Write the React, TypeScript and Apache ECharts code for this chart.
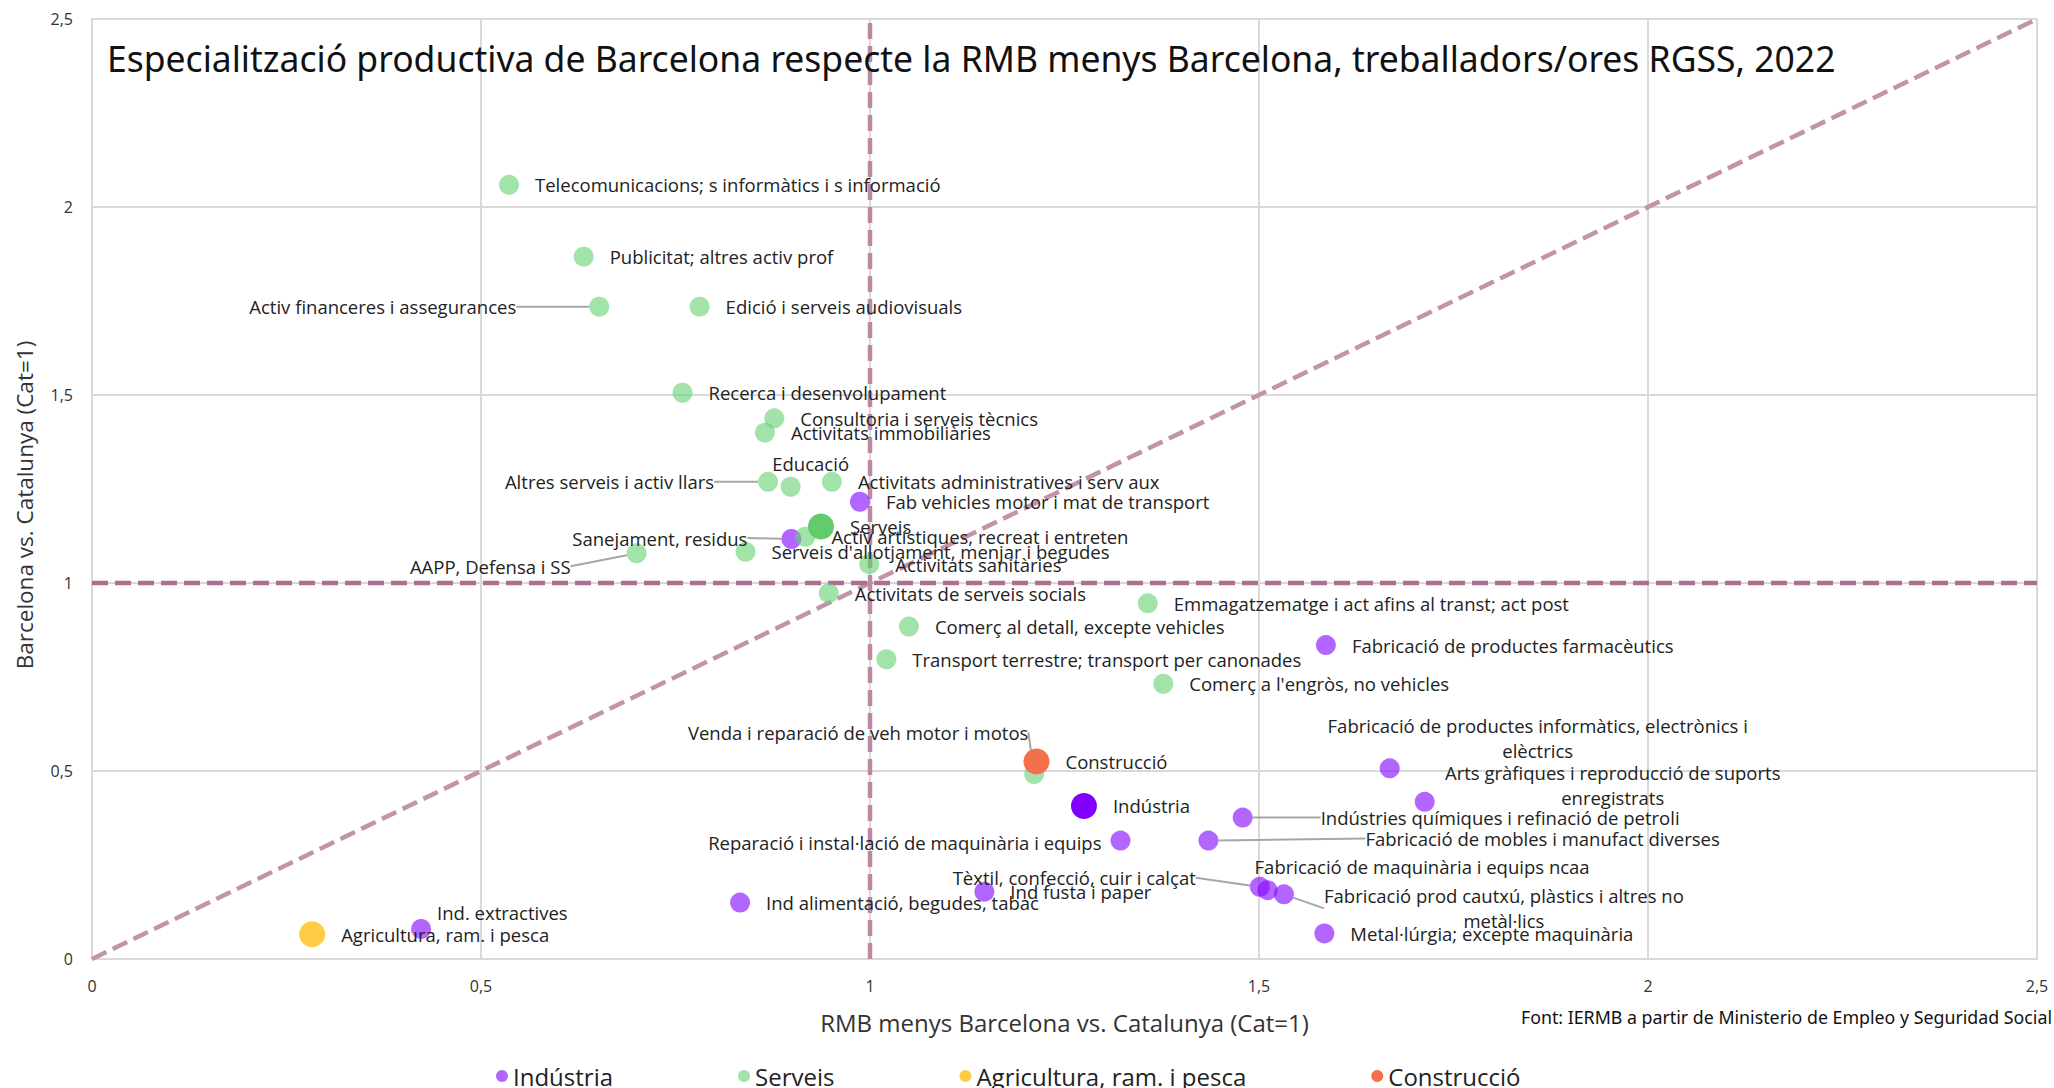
import React, { useEffect, useRef } from "react";
import * as echarts from "echarts";

// ---------- DATA ----------
const categories = ["Indústria", "Serveis", "Agricultura, ram. i pesca", "Construcció"];

const industriaNames = [
  "Fab vehicles motor i mat de transport",
  "Sanejament, residus",
  "Fabricació de productes farmacèutics",
  "Fabricació de productes informàtics, electrònics i elèctrics",
  "Arts gràfiques i reproducció de suports enregistrats",
  "Indústries químiques i refinació de petroli",
  "Fabricació de mobles i manufact diverses",
  "Reparació i instal·lació de maquinària i equips",
  "Tèxtil, confecció, cuir i calçat",
  "Fabricació de maquinària i equips ncaa",
  "Fabricació prod cautxú, plàstics i altres no metàl·lics",
  "Metal·lúrgia; excepte maquinària",
  "Ind fusta i paper",
  "Ind alimentació, begudes, tabac",
  "Ind. extractives",
  "Indústria",
];
const industriaX = [0.987, 0.899, 1.586, 1.668, 1.713, 1.479, 1.435, 1.322, 1.501, 1.511, 1.532, 1.584, 1.147, 0.833, 0.423, 1.275];
const industriaY = [1.216, 1.117, 0.835, 0.507, 0.418, 0.376, 0.315, 0.315, 0.192, 0.183, 0.172, 0.068, 0.179, 0.150, 0.080, 0.407];

const serveisNames = [
  "Telecomunicacions; s informàtics i s informació",
  "Publicitat; altres activ prof",
  "Activ financeres i assegurances",
  "Edició i serveis audiovisuals",
  "Recerca i desenvolupament",
  "Consultoria i serveis tècnics",
  "Activitats immobiliàries",
  "Altres serveis i activ llars",
  "Educació",
  "Activitats administratives i serv aux",
  "Activ artístiques, recreat i entreten",
  "AAPP, Defensa i SS",
  "Serveis d'allotjament, menjar i begudes",
  "Activitats sanitàries",
  "Activitats de serveis socials",
  "Emmagatzematge i act afins al transt; act post",
  "Comerç al detall, excepte vehicles",
  "Transport terrestre; transport per canonades",
  "Comerç a l'engròs, no vehicles",
  "Venda i reparació de veh motor i motos",
  "Serveis",
];
const serveisX = [0.536, 0.632, 0.652, 0.781, 0.759, 0.877, 0.865, 0.869, 0.898, 0.951, 0.917, 0.700, 0.840, 0.999, 0.947, 1.357, 1.050, 1.021, 1.377, 1.211, 0.937];
const serveisY = [2.059, 1.868, 1.735, 1.735, 1.506, 1.438, 1.400, 1.269, 1.256, 1.269, 1.123, 1.079, 1.083, 1.050, 0.973, 0.946, 0.884, 0.797, 0.732, 0.492, 1.150];

const agriNames = ["Agricultura, ram. i pesca"];
const agriX = [0.283];
const agriY = [0.066];

const construccioNames = ["Construcció"];
const construccioX = [1.214];
const construccioY = [0.525];

// reference lines (data space)
const diagonalLine = [[0, 0], [2.5, 2.5]];
const verticalLine = [[1, 0], [1, 2.5]];
const horizontalLine = [[0, 1], [2.5, 1]];

const axisMin = 0;
const axisMax = 2.5;
const axisInterval = 0.5;

const titleText =
  "Especialització productiva de Barcelona respecte la RMB menys Barcelona, treballadors/ores RGSS, 2022";
const sourceText = "Font: IERMB a partir de Ministerio de Empleo y Seguridad Social";
const xAxisName = "RMB menys Barcelona vs. Catalunya (Cat=1)";
const yAxisName = "Barcelona vs. Catalunya (Cat=1)";

// wrapped label texts
const wrappedLabels: Record<string, string> = {
  "Fabricació de productes informàtics, electrònics i elèctrics":
    "Fabricació de productes informàtics, electrònics i\nelèctrics",
  "Arts gràfiques i reproducció de suports enregistrats":
    "Arts gràfiques i reproducció de suports\nenregistrats",
  "Fabricació prod cautxú, plàstics i altres no metàl·lics":
    "Fabricació prod cautxú, plàstics i altres no\nmetàl·lics",
};

// ---------- STYLE / LAYOUT ----------
const aggregateNames = ["Indústria", "Serveis", "Agricultura, ram. i pesca", "Construcció"];
const aggregateColors: Record<string, string> = {
  "Indústria": "#8000FF",
  "Serveis": "#62CB6C",
};

type Lay = { pos?: string; dx?: number; dy?: number; align?: string; line?: boolean };
const labelLayouts: Record<string, Lay> = {
  "Activ financeres i assegurances": { pos: "left", dx: -57, line: true },
  "Altres serveis i activ llars": { pos: "left", dx: -28, line: true },
  "Educació": { pos: "top", dx: 20, dy: 12 },
  "Sanejament, residus": { pos: "left", dx: -18, dy: -1, line: true },
  "AAPP, Defensa i SS": { pos: "left", dx: -40, dy: 13, line: true },
  "Venda i reparació de veh motor i motos": { pos: "top", dx: -176, dy: -6, line: true },
  "Fabricació de productes informàtics, electrònics i elèctrics": { align: "center", dx: 122, dy: -30 },
  "Arts gràfiques i reproducció de suports enregistrats": { align: "center", dx: 162, dy: -17 },
  "Indústries químiques i refinació de petroli": { dx: 52, line: true },
  "Fabricació de mobles i manufact diverses": { dx: 131, dy: -2, line: true },
  "Fabricació de maquinària i equips ncaa": { dx: -39, dy: -24 },
  "Fabricació prod cautxú, plàstics i altres no metàl·lics": { align: "center", dx: 194, dy: 14, line: true },
  "Tèxtil, confecció, cuir i calçat": { pos: "left", dx: -38, dy: -9, line: true },
  "Reparació i instal·lació de maquinària i equips": { pos: "left", dx: 7, dy: 2 },
  "Ind. extractives": { dx: -10, dy: -16 },
};

const LABEL_FONT = "Open Sans";
const LABEL_SIZE = 18.5;

function buildData(names: string[], xs: number[], ys: number[]) {
  return names.map((name, i) => {
    const lay = labelLayouts[name];
    const item: any = { name, value: [xs[i], ys[i]] };
    if (aggregateNames.includes(name)) item.symbolSize = 26;
    if (aggregateColors[name]) item.itemStyle = { color: aggregateColors[name], opacity: 1 };
    if (lay) {
      const label: any = {};
      if (lay.pos) label.position = lay.pos;
      if (lay.align) label.align = lay.align;
      if (wrappedLabels[name]) label.lineHeight = 25;
      item.label = label;
      if (lay.line) item.labelLine = { show: true };
    }
    return item;
  });
}

function scatterSeries(seriesName: string, names: string[], xs: number[], ys: number[], color: string) {
  return {
    name: seriesName,
    type: "scatter",
    symbol: "circle",
    symbolSize: 20,
    z: 3,
    itemStyle: { color, opacity: 1 },
    data: buildData(names, xs, ys),
    label: {
      show: true,
      position: "right",
      distance: 16,
      color: "#222",
      fontFamily: LABEL_FONT,
      fontSize: LABEL_SIZE,
      formatter: (p: any) => wrappedLabels[p.name] || p.name,
    },
    labelLine: { show: false, lineStyle: { color: "#A6A6A6", width: 2 } },
    labelLayout: (p: any) => {
      const l = labelLayouts[names[p.dataIndex]];
      return l ? { dx: l.dx || 0, dy: l.dy || 0 } : {};
    },
    emphasis: { disabled: true },
  };
}

function refLineSeries(data: number[][], color: string) {
  return {
    type: "line",
    data,
    symbol: "none",
    z: 2,
    silent: true,
    lineStyle: { color, width: 4.5, type: [16, 7] },
  };
}

const tickFmt = (v: number) => String(v).replace(".", ",");

export default function App() {
  const ref = useRef<HTMLDivElement>(null);
  useEffect(() => {
    if (!ref.current) return;
    const chart = echarts.init(ref.current, undefined, { renderer: "svg" });
    const axisCommon = {
      type: "value",
      min: axisMin,
      max: axisMax,
      interval: axisInterval,
      axisLine: { show: true, lineStyle: { color: "#D9D9D9", width: 2 } },
      axisTick: { show: false },
      splitLine: { show: true, lineStyle: { color: "#D9D9D9", width: 2 } },
    };
    chart.setOption({
      animation: false,
      backgroundColor: "#fff",
      title: {
        text: titleText,
        left: 107,
        top: 36,
        padding: 0,
        textStyle: { fontFamily: "Noto Sans", fontSize: 35.5, fontWeight: 400, color: "#111", lineHeight: 44 },
      },
      grid: { left: 92, right: 17, top: 19, bottom: 129, containLabel: false },
      xAxis: {
        ...axisCommon,
        name: xAxisName,
        nameLocation: "middle",
        nameGap: 51,
        nameTextStyle: { fontFamily: LABEL_FONT, fontSize: 24, color: "#333" },
        axisLabel: { formatter: tickFmt, margin: 19, fontFamily: LABEL_FONT, fontSize: 16, color: "#333" },
      },
      yAxis: {
        ...axisCommon,
        name: yAxisName,
        nameLocation: "middle",
        nameGap: 56,
        nameTextStyle: { fontFamily: LABEL_FONT, fontSize: 22.5, color: "#333", padding: [0, 32, 0, 0] },
        axisLabel: { formatter: tickFmt, margin: 19, fontFamily: LABEL_FONT, fontSize: 16, color: "#333" },
      },
      legend: {
        data: categories,
        left: 491,
        top: 1059,
        icon: "circle",
        itemWidth: 12,
        itemHeight: 12,
        itemGap: 125,
        textStyle: { fontFamily: LABEL_FONT, fontSize: 24, color: "#222" },
      },
      graphic: [
        {
          type: "text",
          right: 2,
          top: 1008,
          style: { text: sourceText, font: '17.8px "Noto Sans"', fill: "#111" },
        },
      ],
      series: [
        refLineSeries(diagonalLine, "#C393AB"),
        refLineSeries(verticalLine, "#BA8AA2"),
        refLineSeries(horizontalLine, "#AE6E8D"),
        scatterSeries(categories[0], industriaNames, industriaX, industriaY, "rgba(128,0,255,0.6)"),
        scatterSeries(categories[1], serveisNames, serveisX, serveisY, "rgba(100,208,112,0.6)"),
        scatterSeries(categories[2], agriNames, agriX, agriY, "#FFCC44"),
        scatterSeries(categories[3], construccioNames, construccioX, construccioY, "#F4704A"),
      ],
    });
    return () => chart.dispose();
  }, []);
  return (
    <div
      ref={ref}
      style={{ position: "absolute", left: 0, top: 0, width: 2054, height: 1088 }}
    />
  );
}
